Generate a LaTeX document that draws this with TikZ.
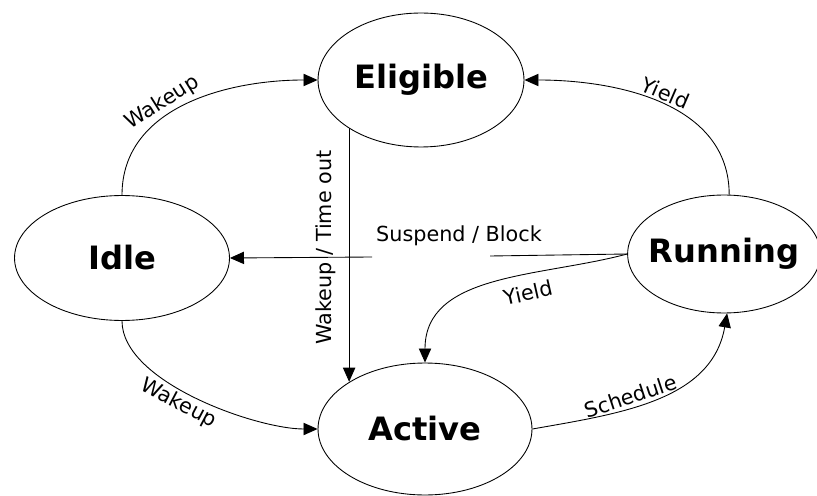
\documentclass[tikz,border=0pt]{standalone}
\usepackage{fontspec}
\setmainfont{DejaVu Sans}
\usetikzlibrary{shapes.geometric,arrows.meta}
\begin{document}
\begin{tikzpicture}[x=0.02cm, y=-0.02cm,
        state/.style={draw, ellipse, line width=0.5pt, inner sep=0pt, font=\fontsize{18.3}{22}\selectfont\bfseries},
        lbl/.style={font=\fontsize{11.8}{14}\selectfont, inner sep=1.5pt},
        arr/.style={-{Triangle[length=8pt,width=7pt]}, line width=0.5pt}]
        \useasboundingbox (0,0) rectangle (817,496);
        % states
        \node[state, minimum width=4.12cm, minimum height=2.68cm] (elig) at (421,80) {Eligible};
        \node[state, minimum width=4.3cm, minimum height=2.5cm] (idle) at (122,258) {Idle};
        \node[state, inner xsep=-4pt, minimum width=3.8cm, minimum height=2.36cm] (run) at (724,254) {Running};
        \node[state, minimum width=4.28cm, minimum height=2.64cm] (act) at (425,429) {Active};
        % transitions
        \draw[arr] (idle.north) to[out=90, in=180] node[lbl, sloped, above, pos=0.42] {Wakeup} (elig.west);
        \draw[arr] (run.85) to[out=90, in=0] node[lbl, sloped, above, pos=0.5] {Yield} (elig.east);
        \draw[arr] (elig.214) -- (elig.214 |- act.148) node[lbl, pos=0.47, rotate=90, above=6pt] {Wakeup / Time out};
        \coordinate (sbR) at (490,256);
        \coordinate (sbL) at (372,257);
        \draw[line width=0.5pt] (run.west) -- (sbR);
        \draw[arr] (sbL) -- (idle.east);
        \node[lbl] (susp) at (459,236) {Suspend / Block};
        \draw[arr] (run.west) to[out=195, in=90] node[lbl, sloped, below=4pt, pos=0.38] {Yield} (act.north);
        \draw[arr] (idle.south) to[out=270, in=180, looseness=0.7] node[lbl, sloped, below, pos=0.45] {Wakeup} (act.west);
        \draw[arr] (act.east) to[out=10, in=260] node[lbl, sloped, above, pos=0.4] {Schedule} (run.-87);
\end{tikzpicture}
\end{document}
